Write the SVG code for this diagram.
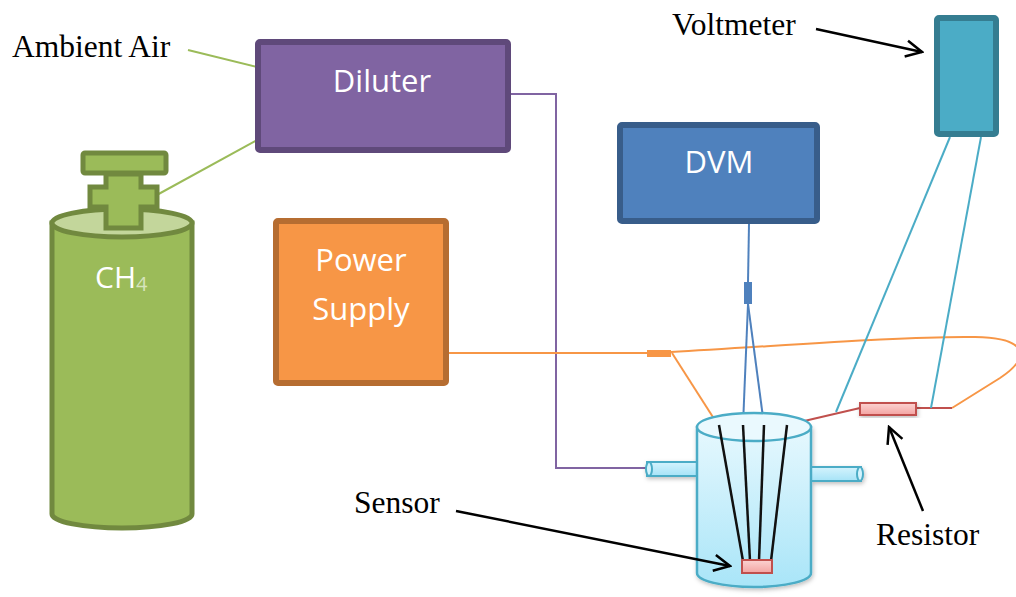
<svg xmlns="http://www.w3.org/2000/svg" width="1016" height="597" viewBox="0 0 1016 597">
  <defs>
    <linearGradient id="glass" x1="0" y1="0" x2="0" y2="1">
      <stop offset="0" stop-color="#E6F8FE"/>
      <stop offset="1" stop-color="#A9E5F8"/>
    </linearGradient>
    <linearGradient id="tube" x1="0" y1="0" x2="0" y2="1">
      <stop offset="0" stop-color="#D4F3FD"/>
      <stop offset="1" stop-color="#A6E3F7"/>
    </linearGradient>
    <linearGradient id="pink" x1="0" y1="0" x2="0" y2="1">
      <stop offset="0" stop-color="#FBD3D2"/>
      <stop offset="1" stop-color="#F3A3A1"/>
    </linearGradient>
    <filter id="shadow" x="-20%" y="-20%" width="140%" height="140%">
      <feDropShadow dx="1" dy="2" stdDeviation="2" flood-color="#000" flood-opacity="0.25"/>
    </filter>
    <marker id="open" viewBox="0 0 20 20" refX="18" refY="10" markerWidth="20" markerHeight="20" markerUnits="userSpaceOnUse" orient="auto">
      <path d="M2,2 L18,10 L2,18" fill="none" stroke="#000" stroke-width="2.5"/>
    </marker>
  </defs>
  <style>
    .box { stroke-width: 6; }
    .btxt { font-family: "Open Sans", "Noto Sans", sans-serif; font-size: 31px; fill: #FFFFFF; text-anchor: middle; }
    .lbl { font-family: "Liberation Serif", "Times New Roman", serif; font-size: 31.5px; fill: #000; }
    .wire { fill: none; stroke-width: 2; }
    .black { fill: none; stroke: #111; stroke-width: 2.5; }
    .pointer { fill: none; stroke: #000; stroke-width: 2.5; marker-end: url(#open); }
  </style>
  <rect width="1016" height="597" fill="#FFFFFF"/>

  <!-- connectors -->
  <g id="connectors">
    <!-- gas lines into the diluter -->
    <line class="wire" x1="188" y1="50" x2="289" y2="75" stroke="#9BBB59"/>
    <line class="wire" x1="155" y1="196" x2="290" y2="122" stroke="#9BBB59"/>
    <!-- diluter outlet to chamber inlet -->
    <polyline class="wire" points="511,94 556,94 556,468 648,468" stroke="#8064A2"/>
    <!-- power supply loop -->
    <line class="wire" x1="449" y1="353" x2="648" y2="353" stroke="#F79646"/>
    <rect x="647" y="350" width="24" height="7" fill="#F79646"/>
    <path class="wire" d="M671,352 C780,346 900,336 975,337 C1030,338 1030,358 1000,378 L952,408" stroke="#F79646"/>
    <line class="wire" x1="672" y1="353" x2="718" y2="425" stroke="#F79646"/>
    <!-- DVM probe -->
    <line class="wire" x1="749" y1="224" x2="748" y2="283" stroke="#4F81BD"/>
    <rect x="744" y="282" width="8" height="22" fill="#4F81BD"/>
    <line class="wire" x1="748" y1="304" x2="743" y2="425" stroke="#4F81BD"/>
    <line class="wire" x1="748" y1="304" x2="764" y2="425" stroke="#4F81BD"/>
    <!-- series resistor -->
    <line class="wire" x1="787" y1="425" x2="860" y2="408" stroke="#C0504D"/>
    <line class="wire" x1="916" y1="408" x2="952" y2="408" stroke="#C0504D"/>
    <!-- voltmeter leads -->
    <line class="wire" x1="950" y1="137" x2="836" y2="412" stroke="#4BACC6"/>
    <line class="wire" x1="981" y1="137" x2="931" y2="408" stroke="#4BACC6"/>
  </g>

  <!-- CH4 gas bottle -->
  <g id="ch4">
    <path d="M52,223 L52,514 A70,14 0 0 0 192,514 L192,223 Z" fill="#9BBB59" stroke="#71893F" stroke-width="5"/>
    <ellipse cx="122" cy="223" rx="70" ry="14" fill="#C3D69B" stroke="#71893F" stroke-width="5"/>
    <rect x="83" y="153" width="83" height="20" rx="2" fill="#9BBB59" stroke="#71893F" stroke-width="5"/>
    <polygon points="106,174 141,174 141,187 157,187 157,207 141,207 141,228 106,228 106,207 90,207 90,187 106,187" fill="#9BBB59" stroke="#71893F" stroke-width="5" stroke-linejoin="miter"/>
    <text x="95" y="288" font-family="Open Sans, Noto Sans, sans-serif" font-size="30" fill="#FFFFFF">CH<tspan font-size="20" fill="#D7E4BD" dy="3">4</tspan></text>
  </g>

  <!-- Diluter -->
  <g id="diluter">
    <rect class="box" x="258" y="42" width="250" height="108" rx="2" fill="#8064A2" stroke="#5F497A"/>
    <text class="btxt" x="382" y="92">Diluter</text>
  </g>

  <!-- Power supply -->
  <g id="power-supply">
    <rect class="box" x="276" y="221" width="170" height="162" rx="2" fill="#F79646" stroke="#B66D31"/>
    <text class="btxt" x="361" y="271">Power</text>
    <text class="btxt" x="361" y="320">Supply</text>
  </g>

  <!-- DVM -->
  <g id="dvm">
    <rect class="box" x="620" y="125" width="197" height="96" rx="2" fill="#4F81BD" stroke="#385D8A"/>
    <text class="btxt" x="719" y="173">DVM</text>
  </g>

  <!-- Voltmeter -->
  <g id="voltmeter">
    <rect class="box" x="937" y="18" width="59" height="116" rx="2" fill="#4BACC6" stroke="#357D91"/>
  </g>

  <!-- Resistor -->
  <g id="resistor">
    <rect x="860" y="403" width="56" height="12" fill="url(#pink)" stroke="#C0504D" stroke-width="2" filter="url(#shadow)"/>
  </g>

  <!-- Test chamber with inlet/outlet tubes, leads and sensor -->
  <g id="chamber">
    <g filter="url(#shadow)">
      <rect x="647" y="462" width="54" height="14" fill="url(#tube)" stroke="#4BACC6" stroke-width="2"/>
      <ellipse cx="649" cy="469" rx="3" ry="7" fill="#D4F3FD" stroke="#4BACC6" stroke-width="2"/>
      <rect x="807" y="467" width="54" height="14" fill="url(#tube)" stroke="#4BACC6" stroke-width="2"/>
      <ellipse cx="860" cy="474" rx="3" ry="7" fill="#D4F3FD" stroke="#4BACC6" stroke-width="2"/>
      <path d="M697,427 L697,573 A57,14 0 0 0 811,573 L811,427 Z" fill="url(#glass)" stroke="#4BACC6" stroke-width="2.5"/>
    </g>
    <ellipse cx="754" cy="427" rx="57" ry="14" fill="#EAF9FE" stroke="#4BACC6" stroke-width="2.5"/>
    <line class="black" x1="719" y1="425" x2="743" y2="561"/>
    <line class="black" x1="743" y1="425" x2="750" y2="561"/>
    <line class="black" x1="764" y1="425" x2="759" y2="561"/>
    <line class="black" x1="787" y1="425" x2="771" y2="561"/>
    <rect id="sensor" x="742" y="560" width="30" height="13" fill="url(#pink)" stroke="#C0504D" stroke-width="2"/>
  </g>

  <!-- label pointers, drawn above the parts they point at -->
  <g id="pointers">
    <line class="pointer" x1="816" y1="29" x2="922" y2="52"/>
    <line class="pointer" x1="456" y1="511" x2="730" y2="566"/>
    <line class="pointer" x1="923" y1="511" x2="889" y2="427"/>
  </g>

  <!-- labels -->
  <g id="labels">
    <text class="lbl" x="12" y="57">Ambient Air</text>
    <text class="lbl" x="672" y="35">Voltmeter</text>
    <text class="lbl" x="354" y="513">Sensor</text>
    <text class="lbl" x="876" y="545">Resistor</text>
  </g>
</svg>
